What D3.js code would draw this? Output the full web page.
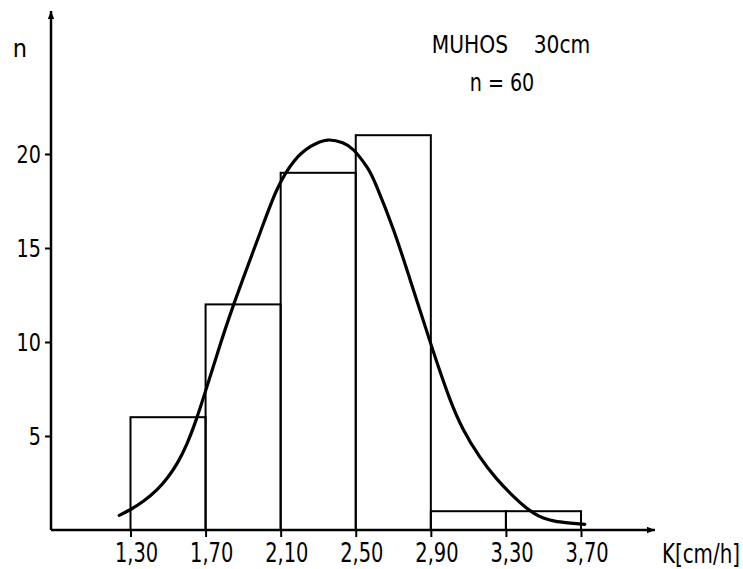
<!DOCTYPE html>
<html>
<head>
<meta charset="utf-8">
<script src="https://cdn.jsdelivr.net/npm/d3@7"></script>
<style>
  body { margin: 0; background: #fff; }
  text { font-family: "DejaVu Sans Condensed", "DejaVu Sans", sans-serif; fill: #000; }
</style>
</head>
<body>
<div id="plot"></div>
<script>
// histogram bins (class limits of K, cm/h) and counts
var binEdges = [1.30, 1.70, 2.10, 2.50, 2.90, 3.30, 3.70];
var counts = [6, 12, 19, 21, 1, 1];

// fitted curve
var curveK = [1.24, 1.30, 1.37, 1.44, 1.50, 1.55, 1.60, 1.65, 1.70, 1.76, 1.85, 1.99, 2.08, 2.17, 2.26, 2.35, 2.43, 2.49, 2.56, 2.61, 2.70, 2.79, 2.90, 2.95, 3.00, 3.07, 3.16, 3.25, 3.34, 3.40, 3.45, 3.50, 3.56, 3.63, 3.72];
var curveN = [0.78, 1.09, 1.54, 2.13, 2.82, 3.57, 4.57, 5.87, 7.40, 9.30, 12.0, 15.8, 18.1, 19.6, 20.4, 20.74, 20.6, 20.2, 19.3, 18.3, 16.0, 13.3, 9.9, 8.4, 7.0, 5.4, 3.9, 2.73, 1.79, 1.25, 0.89, 0.64, 0.47, 0.38, 0.30];

var yTicks = [5, 10, 15, 20];
var title = "MUHOS    30cm";
var subtitle = "n = 60";
var xLabel = "K[cm/h]";
var yLabel = "n";

var svgWidth = 743;
var svgHeight = 569;

var svg = d3.select("#plot")
  .append("svg")
  .attr("width", svgWidth)
  .attr("height", svgHeight);

var xScale = d3.scaleLinear()
  .domain([1.30, 3.70])
  .range([130.5, 581]);

var yScale = d3.scaleLinear()
  .domain([0, 20])
  .range([530, 154]);

var x0 = 51;   // where the y axis stands
var y0 = yScale(0);

// arrow heads
var defs = svg.append("defs");
defs.append("marker")
  .attr("id", "arrow")
  .attr("viewBox", "0 0 10 10")
  .attr("refX", 10)
  .attr("refY", 5)
  .attr("markerUnits", "userSpaceOnUse")
  .attr("markerWidth", 20)
  .attr("markerHeight", 8)
  .attr("orient", "auto")
  .append("path")
  .attr("d", "M0,1 L10,5 L0,9 Z")
  .attr("fill", "#000");

// bars
var bins = counts.map((c, i) => ({x0: binEdges[i], x1: binEdges[i + 1], n: c}));
svg.selectAll("rect.bar")
  .data(bins)
  .enter()
  .append("rect")
  .attr("class", "bar")
  .attr("x", d => xScale(d.x0))
  .attr("y", d => yScale(d.n))
  .attr("width", d => xScale(d.x1) - xScale(d.x0))
  .attr("height", d => y0 - yScale(d.n))
  .attr("fill", "none")
  .attr("stroke", "#000")
  .attr("stroke-width", 2);

// axes lines with arrows
svg.append("line")
  .attr("x1", x0).attr("y1", y0)
  .attr("x2", 655).attr("y2", y0)
  .attr("stroke", "#000").attr("stroke-width", 2.5)
  .attr("marker-end", "url(#arrow)");

svg.append("line")
  .attr("x1", x0).attr("y1", y0)
  .attr("x2", x0).attr("y2", 11)
  .attr("stroke", "#000").attr("stroke-width", 2.5)
  .attr("marker-end", "url(#arrow)");

// ticks
var bottomAxis = d3.axisBottom(xScale)
  .tickValues(binEdges)
  .tickFormat(d => d3.format(".2f")(d).replace(".", ","))
  .tickSize(7)
  .tickPadding(6);

var leftAxis = d3.axisLeft(yScale)
  .tickValues(yTicks)
  .tickSize(6)
  .tickPadding(6);

var gx = svg.append("g")
  .attr("transform", `translate(0, ${y0})`)
  .call(bottomAxis);
gx.select(".domain").remove();
gx.selectAll("line").attr("stroke", "#000").attr("stroke-width", 2);
gx.selectAll("text")
  .attr("font-family", null)
  .attr("dx", 7)
  .attr("transform", "scale(0.8,1)")
  .style("font-size", "27px");

var gy = svg.append("g")
  .attr("transform", `translate(${x0}, 0)`)
  .call(leftAxis);
gy.select(".domain").remove();
gy.selectAll("line").attr("stroke", "#000").attr("stroke-width", 2);
gy.selectAll("text")
  .attr("font-family", null)
  .attr("transform", "scale(0.85,1)")
  .style("font-size", "25px");

// fitted curve
var curvePts = curveK.map((k, i) => [k, curveN[i]]);
var line = d3.line()
  .x(d => xScale(d[0]))
  .y(d => yScale(d[1]))
  .curve(d3.curveNatural);

svg.append("path")
  .datum(curvePts)
  .attr("d", line)
  .attr("fill", "none")
  .attr("stroke", "#000")
  .attr("stroke-width", 3.2)
  .attr("stroke-linecap", "round");

// labels
svg.append("text")
  .attr("x", 20).attr("y", 57)
  .attr("text-anchor", "middle")
  .style("font-size", "25px")
  .text(yLabel);

svg.append("g")
  .attr("transform", "translate(740,563) scale(0.85,1)")
  .append("text")
  .attr("text-anchor", "end")
  .style("font-size", "26px")
  .text(xLabel);

svg.append("g")
  .attr("transform", "translate(511,53) scale(0.9,1)")
  .append("text")
  .attr("text-anchor", "middle")
  .style("font-size", "25px")
  .style("white-space", "pre")
  .text(title);

svg.append("g")
  .attr("transform", "translate(502,91) scale(0.85,1)")
  .append("text")
  .attr("text-anchor", "middle")
  .style("font-size", "25px")
  .style("white-space", "pre")
  .text(subtitle);
</script>
</body>
</html>
